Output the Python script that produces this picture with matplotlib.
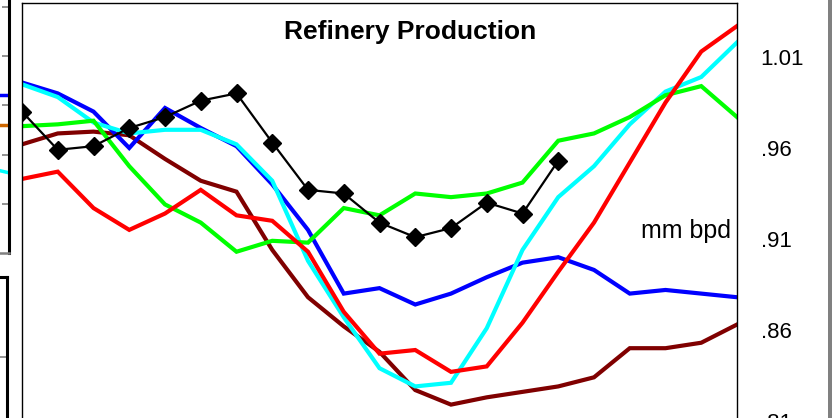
import matplotlib
matplotlib.use("Agg")
import matplotlib.pyplot as plt
from matplotlib.patches import Rectangle
import numpy as np

plt.rcParams['font.family'] = ['Liberation Sans', 'DejaVu Sans']

# ---------------- data (mm bpd) ----------------
periods = list(range(21))
blue = [0.996, 0.990, 0.980, 0.960, 0.982, 0.971, 0.961, 0.940, 0.915, 0.880, 0.883,
        0.874, 0.880, 0.889, 0.897, 0.900, 0.893, 0.880, 0.882, 0.880, 0.878]
cyan = [0.995, 0.988, 0.974, 0.968, 0.970, 0.970, 0.962, 0.942, 0.898, 0.867, 0.839,
        0.829, 0.831, 0.861, 0.904, 0.933, 0.950, 0.973, 0.991, 0.999, 1.018]
green = [0.972, 0.973, 0.975, 0.950, 0.929, 0.919, 0.903, 0.909, 0.908, 0.927, 0.923,
         0.935, 0.933, 0.935, 0.941, 0.964, 0.968, 0.977, 0.989, 0.994, 0.977]
red = [0.943, 0.947, 0.927, 0.915, 0.924, 0.937, 0.923, 0.920, 0.903, 0.870, 0.847,
       0.849, 0.837, 0.840, 0.864, 0.892, 0.919, 0.952, 0.985, 1.013, 1.027]
darkred = [0.962, 0.968, 0.969, 0.967, 0.954, 0.942, 0.936, 0.904, 0.878, 0.862, 0.848,
           0.827, 0.819, 0.823, 0.826, 0.829, 0.834, 0.850, 0.850, 0.853, 0.863]
current = [0.980, 0.959, 0.961, 0.971, 0.977, 0.986, 0.990, 0.963, 0.937, 0.935, 0.919,
           0.911, 0.916, 0.930, 0.924, 0.953]
ytick_vals = [1.01, 0.96, 0.91, 0.86, 0.81]
ytick_labels = ['1.01', '.96', '.91', '.86', '.81']
title = 'Refinery Production'
unit_label = 'mm bpd'

# fragments of neighbouring panels at the left edge
frag_ticks = [0, 1, 2, 3, 4]
frag_blue = [2.21, 2.21]
frag_orange = [1.60, 1.60]
frag_cyan = [0.73, 0.63]

# ---------------- figure ----------------
W, H = 832, 418
fig = plt.figure(figsize=(W / 100, H / 100), dpi=100)
fig.patch.set_facecolor('white')


def px_axes(x0, y0, x1, y1):
    """axes rectangle from pixel coords (top-left origin)"""
    return [x0 / W, 1 - y1 / H, (x1 - x0) / W, (y1 - y0) / H]


# main chart
ax = fig.add_axes(px_axes(22, 3, 737, 500))
ax.set_xlim(0, 20)
ax.set_ylim(0.76659, 1.03967)
lw = 3.0
ax.plot(periods, darkred, color='#800000', lw=lw, solid_joinstyle='miter')
ax.plot(periods, blue, color='#0000FF', lw=lw, solid_joinstyle='miter')
ax.plot(periods, cyan, color='#00FFFF', lw=lw, solid_joinstyle='miter')
ax.plot(periods, green, color='#00FF00', lw=lw, solid_joinstyle='miter')
ax.plot(periods, red, color='#FF0000', lw=lw, solid_joinstyle='miter')
ax.plot(periods[:len(current)], current, color='black', lw=1.6, marker='D',
        markersize=9, markerfacecolor='black', markeredgecolor='black')

ax.set_xticks([])
ax.yaxis.tick_right()
ax.set_yticks(ytick_vals)
ax.set_yticklabels(ytick_labels)
ax.tick_params(axis='y', length=0, pad=17, labelsize=16)
for t in ax.get_yticklabels():
    t.set_horizontalalignment('left')
for side in ['left', 'right', 'top']:
    ax.spines[side].set_linewidth(1.0)
    ax.spines[side].set_color('black')
ax.spines['bottom'].set_visible(False)

fig.text(410 / W, 1 - 32 / H, title, ha='center', va='center',
         fontsize=19, fontweight='bold')
fig.text(731 / W, 1 - 231 / H, unit_label, ha='right', va='center', fontsize=18)

# left fragment panel 1
axl = fig.add_axes(px_axes(-200, -20, 9, 253))
axl.set_xlim(0, 1)
axl.set_ylim(-1.0, 4.55)
axl.plot([0.9, 1.0], frag_blue, color='#0000FF', lw=2.5, clip_on=True)
axl.plot([0.9, 1.0], frag_orange, color='#CC6600', lw=2.5)
axl.plot([0.9, 1.0], frag_cyan, color='#00FFFF', lw=2.5)
axl.set_xticks([])
axl.yaxis.tick_right()
axl.set_yticks(frag_ticks)
axl.set_yticklabels([])
axl.tick_params(axis='y', direction='in', length=5, width=1.2, color='#808080')
axl.spines['left'].set_visible(False)
axl.spines['top'].set_visible(False)
axl.spines['right'].set_linewidth(2.2)
axl.spines['right'].set_color('black')
axl.spines['bottom'].set_linewidth(1.8)
axl.spines['bottom'].set_color('#808080')
axl.patch.set_alpha(0)

# left fragment panel 2
axl2 = fig.add_axes(px_axes(-200, 277, 7, 520))
axl2.set_xlim(0, 1)
axl2.set_ylim(0, 1)
axl2.set_xticks([])
axl2.yaxis.tick_right()
axl2.set_yticks([1 - (357 - 277) / (520 - 277)])
axl2.set_yticklabels([])
axl2.tick_params(axis='y', direction='in', length=5, width=1.2, color='#808080')
axl2.spines['left'].set_visible(False)
axl2.spines['bottom'].set_visible(False)
axl2.spines['right'].set_linewidth(2.2)
axl2.spines['top'].set_linewidth(2.2)
axl2.patch.set_alpha(0)

# grey strip on right edge
fig.patches.append(Rectangle((828 / W, 0), 4 / W, 1, transform=fig.transFigure,
                             facecolor='#808080', edgecolor='none'))

fig.savefig('out.png', dpi=100)
